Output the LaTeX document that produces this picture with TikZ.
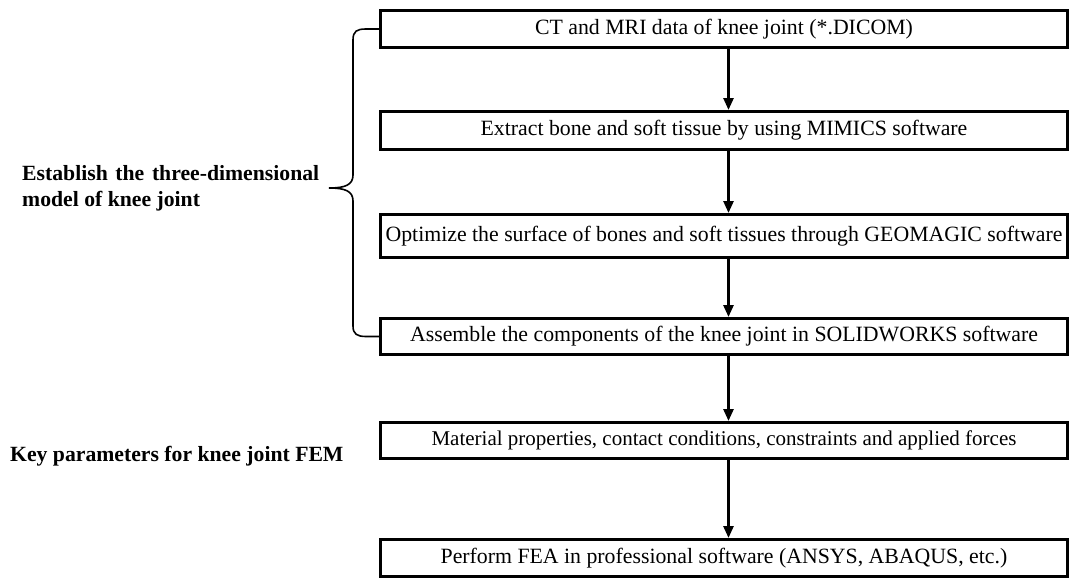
\documentclass[tikz,border=0pt]{standalone}
\usepackage{fontspec}
\setmainfont{Liberation Serif}
\usetikzlibrary{arrows.meta}
\begin{document}
\begin{tikzpicture}[x=1pt,y=-1pt,
  stepbox/.style={draw=black, line width=3pt, minimum width=687pt, inner sep=0pt,
    font=\fontsize{21.8}{25}\selectfont},
  flowarrow/.style={line width=2.6pt, -{Triangle[width=10pt,length=12pt]}},
  bracepath/.style={line width=1.6pt},
  sidelabel/.style={inner sep=0pt, font=\bfseries\fontsize{21.7}{26}\selectfont, align=left}]
\useasboundingbox (0,0) rectangle (1071,582);
\node[stepbox, minimum height=37pt] (b1) at (724,29) {CT and MRI data of knee joint (*.DICOM)};
\node[stepbox, minimum height=38pt] (b2) at (724,130.5) {Extract bone and soft tissue by using MIMICS software};
\node[stepbox, minimum height=43pt] (b3) at (724,236) {Optimize the surface of bones and soft tissues through GEOMAGIC software};
\node[stepbox, minimum height=36pt] (b4) at (724,336.5) {Assemble the components of the knee joint in SOLIDWORKS software};
\node[stepbox, minimum height=36pt, font=\fontsize{21}{25}\selectfont] (b5) at (724,440.5) {Material properties, contact conditions, constraints and applied forces};
\node[stepbox, minimum height=37pt] (b6) at (724,558) {Perform FEA in professional software (ANSYS, ABAQUS, etc.)};
\foreach \a/\b in {b1/b2,b2/b3,b3/b4,b4/b5,b5/b6}
  \draw[flowarrow] ([xshift=4.5pt]\a.south) -- ([xshift=4.5pt]\b.north);
\node[sidelabel, anchor=north west] (est) at (22,165)
  {\makebox[297pt][s]{Establish the three-dimensional}\\model of knee joint};
\node[sidelabel, anchor=base west] (key) at (10,461) {Key parameters for knee joint FEM};
\draw[bracepath] (b1.west) -- (366,29) .. controls (357,29) and (353,31) .. (353,40)
  -- (353,175) .. controls (353,185) and (345,188) .. (329,188)
  .. controls (345,188) and (353,191) .. (353,201)
  -- (353,326) .. controls (353,334) and (357,336.5) .. (366,336.5) -- (b4.west);
\end{tikzpicture}
\end{document}
